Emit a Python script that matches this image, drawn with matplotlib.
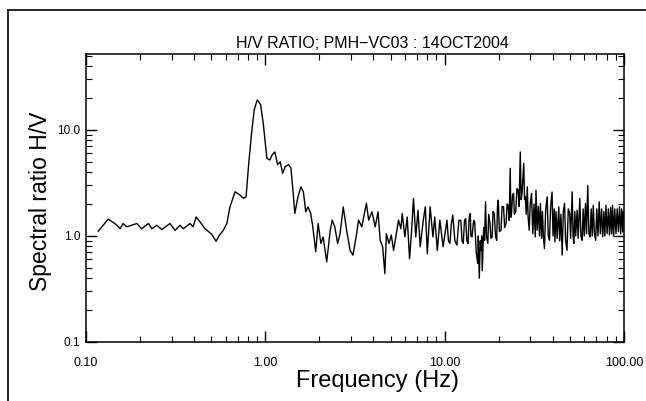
import matplotlib
matplotlib.use("Agg")
import matplotlib.pyplot as plt
from matplotlib.lines import Line2D
from matplotlib.ticker import FixedLocator, NullFormatter

plt.rcParams['font.family'] = ['Liberation Sans', 'DejaVu Sans']

# H/V spectral ratio (frequency in Hz, ratio)
freq = [0.117, 0.133, 0.145, 0.155, 0.161, 0.169, 0.192, 0.204, 0.223, 0.233,
        0.248, 0.265, 0.294, 0.314, 0.334, 0.349, 0.380, 0.396, 0.411, 0.432,
        0.461, 0.502, 0.531, 0.555, 0.583, 0.610, 0.635, 0.678, 0.723, 0.755,
        0.781, 0.805, 0.838, 0.867, 0.902, 0.941, 0.973, 1.00, 1.02, 1.06,
        1.09, 1.13, 1.17, 1.21, 1.25, 1.29, 1.35, 1.39, 1.43, 1.46,
        1.52, 1.58, 1.63, 1.68, 1.73, 1.79, 1.84, 1.91, 1.97, 2.04,
        2.10, 2.20, 2.30, 2.36, 2.44, 2.53, 2.61, 2.72, 2.84, 2.97,
        3.08, 3.21, 3.31, 3.45, 3.66, 3.77, 3.93, 4.10, 4.25, 4.37,
        4.51, 4.64, 4.73, 4.89, 5.04, 5.19, 5.36, 5.53, 5.70, 5.80,
        6.00, 6.18, 6.37, 6.54, 6.70, 6.90, 7.10, 7.30, 7.60, 7.80,
        8.00, 8.30, 8.60, 8.80, 9.10, 9.40, 9.80,
        10.3, 10.5, 10.7, 10.9, 11.1, 11.4, 11.7, 12.0, 12.3, 12.5,
        12.7, 12.9, 13.1, 13.3, 13.5, 13.7, 13.9, 14.0, 14.2, 14.5,
        14.7, 15.0, 15.3, 15.4, 15.6, 15.8, 16.0, 16.1, 16.2, 16.5,
        16.7, 16.9, 17.1, 17.4, 17.6, 17.9, 18.1, 18.4, 18.6, 18.9,
        19.2, 19.5, 19.7, 19.9, 20.2, 20.6, 20.9, 21.3, 21.6, 22.0,
        22.3, 22.6, 22.9, 23.2, 23.4, 23.6, 23.9, 24.2, 24.5, 24.9,
        25.3, 25.7, 26.0, 26.4, 26.7, 27.0, 27.3, 27.6, 27.9, 28.2,
        28.5, 28.9, 29.2, 29.6, 30.0,
        30.5, 31.0, 31.5, 32.0, 32.3, 32.8, 33.3, 33.8, 34.2, 34.7,
        35.1, 35.5, 36.0, 36.6, 37.3, 37.8, 38.4, 39.0, 39.7, 40.2,
        40.8, 41.2, 41.8, 42.4, 43.3, 43.8, 44.5, 45.2, 45.9, 46.6,
        47.3, 48.1, 48.9, 49.8, 50.4, 51.4, 52.0, 52.5, 53.2, 53.8,
        54.8, 55.5, 56.7, 57.5, 58.4, 59.2, 60.0, 61.0, 61.8, 62.8,
        63.7, 64.7, 65.6, 66.5, 67.4, 68.4, 69.5, 70.5, 71.6, 72.7,
        73.8, 75.0, 76.1, 77.2, 78.2, 79.3, 80.5, 81.8, 83.0, 84.2,
        85.3, 86.3, 87.5, 88.8, 90.2, 91.6, 93.0, 94.4, 95.8, 97.1,
        98.4, 99.3, 100.0]
ratio = [1.11, 1.44, 1.31, 1.17, 1.31, 1.22, 1.31, 1.17, 1.31, 1.17,
         1.26, 1.15, 1.31, 1.13, 1.26, 1.17, 1.31, 1.22, 1.51, 1.36,
         1.17, 1.04, 0.89, 1.02, 1.13, 1.31, 1.88, 2.61, 2.43, 2.26,
         2.34, 4.5, 9.3, 15.5, 19.2, 17.3, 11.6, 7.5, 5.4, 5.2,
         5.8, 6.2, 4.7, 5.0, 3.9, 4.5, 4.7, 4.35, 2.52, 1.63,
         2.34, 2.91, 2.61, 1.69, 1.88, 1.63, 1.22, 0.71, 1.31, 0.85,
         0.98, 0.57, 1.13, 1.41, 1.22, 0.85, 1.05, 1.88, 1.13, 0.73,
         0.66, 0.98, 1.41, 1.22, 2.03, 1.41, 1.69, 1.22, 1.69, 0.91,
         0.79, 0.44, 1.05, 0.85, 1.02, 0.73, 1.02, 1.41, 1.17, 1.63,
         0.98, 1.51, 0.61, 1.13, 2.26, 0.98, 1.75, 0.79, 1.41, 1.88,
         0.68, 1.88, 0.98, 1.51, 0.73, 1.41, 0.79,
         1.41, 0.90, 0.85, 1.30, 1.57, 0.90, 0.82, 1.40, 1.41, 0.90,
         0.85, 1.40, 1.46, 0.90, 0.85, 1.50, 1.63, 1.00, 0.98, 1.40,
         1.36, 0.70, 0.55, 1.00, 0.40, 0.90, 0.73, 1.00, 0.47, 1.20,
         0.91, 2.10, 1.00, 0.85, 1.60, 1.31, 0.95, 0.98, 1.70, 1.63,
         1.00, 0.91, 1.90, 2.18, 1.10, 1.13, 1.90, 1.88, 1.20, 1.31,
         2.00, 1.95, 1.40, 4.34, 1.50, 1.63, 2.40, 2.52, 1.60, 1.69,
         2.80, 2.70, 1.90, 6.20, 2.20, 2.52, 3.50, 4.84, 2.20, 2.34,
         1.60, 2.91, 1.50, 1.13, 2.00,
         2.52, 1.05, 2.00, 0.98, 2.70, 1.13, 1.90, 1.00, 2.03, 0.95,
         1.70, 1.00, 0.76, 1.80, 2.34, 1.00, 0.91, 1.90, 2.60, 1.00,
         1.80, 0.88, 1.70, 0.95, 1.88, 0.90, 1.60, 0.66, 1.70, 2.03,
         0.90, 0.73, 1.80, 1.63, 0.95, 2.61, 1.00, 0.85, 1.70, 1.00,
         1.75, 0.95, 2.26, 1.00, 0.91, 1.80, 1.00, 2.03, 1.05, 3.00,
         1.05, 0.98, 1.80, 1.00, 1.95, 1.05, 0.91, 1.80, 1.00, 2.10,
         1.05, 1.80, 0.98, 1.70, 1.00, 1.95, 1.05, 1.80, 1.02, 1.85,
         1.05, 1.95, 1.00, 1.80, 1.05, 1.80, 1.10, 1.88, 1.05, 1.80,
         1.09, 1.70, 1.51]

xticks = [0.1, 1, 10, 100]
xticklabels = ["0.10", "1.00", "10.00", "100.00"]
yticks = [0.1, 1, 10]
yticklabels = ["0.1", "1.0", "10.0"]

fig = plt.figure(figsize=(6.46, 4.01), dpi=100)
ax = fig.add_axes([86 / 646, 1 - 342 / 401, (624 - 86) / 646, (342 - 54) / 401])

ax.plot(freq, ratio, color='black', linewidth=1.0)

ax.set_xscale('log')
ax.set_yscale('log')
ax.set_xlim(0.1, 100)
ax.set_ylim(0.1, 52)

ax.set_xticks(xticks)
ax.set_xticklabels(xticklabels)
ax.set_yticks(yticks)
ax.set_yticklabels(yticklabels)
minor = [m * 10.0 ** e for e in range(-2, 3) for m in range(2, 10)]
ax.xaxis.set_minor_locator(FixedLocator(minor))
ax.yaxis.set_minor_locator(FixedLocator(minor))
ax.xaxis.set_minor_formatter(NullFormatter())
ax.yaxis.set_minor_formatter(NullFormatter())

ax.tick_params(which='both', direction='in', top=True, right=True, colors='black')
ax.tick_params(axis='x', which='major', labelsize=9, pad=11)
ax.tick_params(axis='y', which='major', labelsize=8.5, pad=4)
ax.tick_params(which='major', length=8, width=1.0)
ax.tick_params(which='minor', length=4, width=0.8)
for s in ax.spines.values():
    s.set_linewidth(1.1)

ax.set_xlabel("Frequency (Hz)", fontsize=17)
ax.xaxis.set_label_coords((378 - 86) / 538, (342 - 370) / 288)
ax.set_ylabel("Spectral ratio H/V", fontsize=16.5)
ax.yaxis.set_label_coords((52 - 86) / 538, 0.49)

fig.text(372 / 646, 1 - 43 / 401, "H/V RATIO; PMH\u2212VC03 : 14OCT2004",
         ha='center', va='center', fontsize=11.5)

# outer frame of the scanned figure (left and top edges)
fig.add_artist(Line2D([8 / 646, 8 / 646], [0, 1 - 10 / 401],
                      transform=fig.transFigure, color='black', linewidth=1.2))
fig.add_artist(Line2D([8 / 646, 1], [1 - 10 / 401, 1 - 10 / 401],
                      transform=fig.transFigure, color='black', linewidth=1.2))

fig.savefig("out.png", dpi=100)
